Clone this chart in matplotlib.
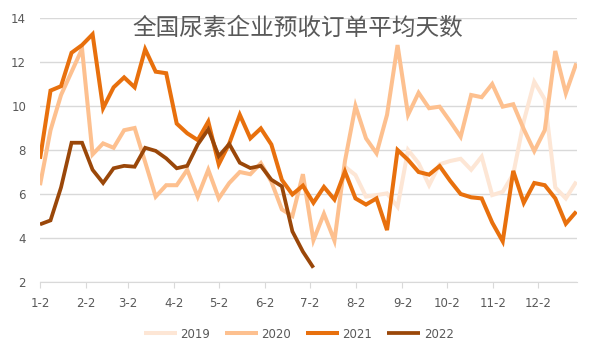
import numpy as np
import matplotlib
matplotlib.use("Agg")
import matplotlib.pyplot as plt

plt.rcParams['font.family'] = ['DejaVu Sans']

title = "全国尿素企业预收订单平均天数"
month_labels = ["1-2", "2-2", "3-2", "4-2", "5-2", "6-2", "7-2", "8-2", "9-2", "10-2", "11-2", "12-2"]
month_days = [0, 31, 59, 90, 120, 151, 181, 212, 243, 273, 304, 334]

nan = np.nan
v2019 = [nan] * 29 + [7.24, 6.86, 5.88, 5.95, 6.03, 5.42, 8.0, 7.4, 6.4, 7.35, 7.5, 7.6, 7.1, 7.7,
                      5.95, 6.1, 6.9, 9.3, 11.1, 10.3, 6.3, 5.8, 6.56]
v2020 = [6.4, 8.9, 10.5, 11.55, 12.6, 7.8, 8.3, 8.1, 8.9, 9.0, 7.45, 5.88, 6.4, 6.4, 7.1, 5.88,
         7.1, 5.8, 6.5, 7.0, 6.9, 7.4, 6.56, 5.3, 5.0, 6.9, 3.9, 5.1, 3.88, 7.5, 10.0, 8.53,
         7.85, 9.6, 12.77, 9.6, 10.6, 9.9, 9.97, 9.3, 8.6, 10.5, 10.4, 11.0, 9.97, 10.08, 8.95,
         7.95, 8.9, 12.5, 10.58, 11.94]
v2021 = [7.6, 10.7, 10.9, 12.42, 12.77, 13.26, 9.9, 10.85, 11.3, 10.85, 12.58, 11.56, 11.49,
         9.2, 8.76, 8.45, 9.29, 7.35, 8.3, 9.6, 8.53, 8.98, 8.25, 6.64, 5.98, 6.38, 5.6, 6.32,
         5.75, 7.02, 5.8, 5.52, 5.8, 4.36, 8.0, 7.55, 7.0, 6.88, 7.27, 6.6, 6.0, 5.85, 5.8,
         4.7, 3.85, 7.05, 5.6, 6.5, 6.4, 5.8, 4.65, 5.2]
v2022 = [4.62, 4.8, 6.3, 8.33, 8.33, 7.1, 6.5, 7.17, 7.28, 7.24, 8.1, 7.96, 7.62, 7.17, 7.28,
         8.25, 8.94, 7.72, 8.27, 7.42, 7.18, 7.28, 6.65, 6.35, 4.3, 3.38, 2.65]

series = [("2019", v2019, "#FDE6D5", 2.9),
          ("2020", v2020, "#FDC08F", 2.9),
          ("2021", v2021, "#E8700D", 2.9),
          ("2022", v2022, "#9A4709", 2.7)]

fig = plt.figure(figsize=(5.95, 3.6), dpi=100)
ax = fig.add_axes([40 / 595, 1 - 282 / 360, 537 / 595, 264 / 360])

for name, vals, col, lw in series:
    x = np.arange(len(vals)) * 7.05
    ax.plot(x, vals, color=col, lw=lw, label=name, solid_joinstyle='miter', solid_capstyle='butt')

ax.set_xlim(0, 360)
ax.set_ylim(2, 14)
ax.set_yticks(range(2, 15, 2))
ax.set_xticks(month_days)
ax.set_xticklabels(month_labels)
ax.grid(axis='y', color='#D9D9D9', lw=1)
ax.set_axisbelow(True)
for s in ['left', 'right', 'top']:
    ax.spines[s].set_visible(False)
ax.spines['bottom'].set_color('#D9D9D9')
ax.tick_params(axis='y', length=0, pad=10, labelsize=8.5, labelcolor='#595959')
ax.tick_params(axis='x', length=4, color='#D9D9D9', pad=7, labelsize=8.5, labelcolor='#595959')

ax.text(0.5, 1 - 28 / 360, title, transform=fig.transFigure, va='center', ha='center',
        fontsize=17, color='#595959', family=['Noto Sans CJK SC', 'DejaVu Sans'])

leg = fig.legend(loc='center', bbox_to_anchor=(0.502, 1 - 334 / 360), ncol=4, frameon=False,
                 fontsize=8.5, handlelength=2.8, columnspacing=1.25, handletextpad=0.3,
                 labelcolor='#595959')

fig.savefig("out.png", dpi=100)
